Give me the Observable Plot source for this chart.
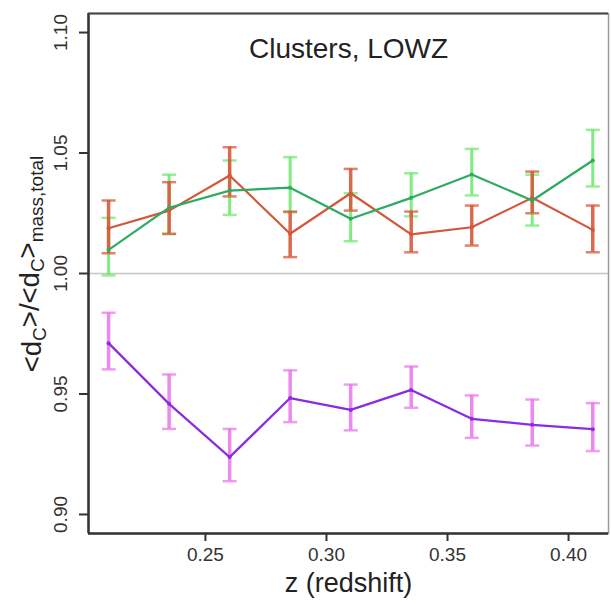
<!DOCTYPE html>
<html>
<head>
<meta charset="utf-8">
<script src="https://cdn.jsdelivr.net/npm/d3@7"></script>
<script src="https://cdn.jsdelivr.net/npm/@observablehq/plot@0.6"></script>
<style>
  html, body { margin: 0; padding: 0; background: #fff; }
  #chart svg { display: block; }
</style>
</head>
<body>
<div id="chart"></div>
<script>
// ---- data ----
const z = [0.21, 0.235, 0.26, 0.285, 0.31, 0.335, 0.36, 0.385, 0.41];

const greenVal = [1.0098, 1.0273, 1.0344, 1.0356, 1.0227, 1.0314, 1.0411, 1.0303, 1.0469];
const greenLo  = [0.9992, 1.0163, 1.0243, 1.0254, 1.0134, 1.0237, 1.0324, 1.0199, 1.0361];
const greenHi  = [1.0231, 1.0410, 1.0469, 1.0483, 1.0333, 1.0416, 1.0517, 1.0410, 1.0596];

const redVal = [1.0188, 1.0261, 1.0407, 1.0165, 1.0333, 1.0162, 1.0192, 1.0314, 1.0181];
const redLo  = [1.0084, 1.0165, 1.0320, 1.0068, 1.0261, 1.0088, 1.0116, 1.0250, 1.0088];
const redHi  = [1.0303, 1.0379, 1.0524, 1.0257, 1.0434, 1.0257, 1.0282, 1.0423, 1.0282];

const purpleVal = [0.9711, 0.9459, 0.9238, 0.9483, 0.9434, 0.9517, 0.9397, 0.9372, 0.9354];
const purpleLo  = [0.9602, 0.9355, 0.9138, 0.9383, 0.9349, 0.9443, 0.9318, 0.9286, 0.9263];
const purpleHi  = [0.9837, 0.9581, 0.9355, 0.9598, 0.9539, 0.9614, 0.9494, 0.9477, 0.9462];

const xTicks = [0.25, 0.30, 0.35, 0.40];
const yTicks = [0.90, 0.95, 1.00, 1.05, 1.10];
const xDomain = [0.2017, 0.4165];
const yDomain = [0.8921, 1.1079];
const refValue = 1.00;

const titleText = "Clusters, LOWZ";
const xLabel = "z (redshift)";

// ---- build tables ----
function series(name, val, lo, hi) {
  return z.map((zz, i) => ({series: name, z: zz, v: val[i], lo: lo[i], hi: hi[i]}));
}
const green = series("green", greenVal, greenLo, greenHi);
const red = series("red", redVal, redLo, redHi);
const purple = series("purple", purpleVal, purpleLo, purpleHi);

const colors = {
  green:  {line: "#2eaa62", bar: "#72ea72"},
  red:    {line: "#d2573b", bar: "#d65a3a"},
  purple: {line: "#8a2be2", bar: "#ea7bec"}
};

// horizontal cap symbol for error bars
const capSymbol = {
  draw(ctx, size) {
    const w = Math.sqrt(size / Math.PI);
    ctx.moveTo(-w, 0);
    ctx.lineTo(w, 0);
  }
};

function errorMarks(data, c, w) {
  return [
    Plot.ruleX(data, {x: "z", y1: "lo", y2: "hi", stroke: c.bar, strokeWidth: w, strokeOpacity: 0.9}),
    Plot.dot(data, {x: "z", y: "lo", symbol: capSymbol, r: 7, stroke: c.bar, strokeWidth: 2.5, strokeOpacity: 0.75}),
    Plot.dot(data, {x: "z", y: "hi", symbol: capSymbol, r: 7, stroke: c.bar, strokeWidth: 2.5, strokeOpacity: 0.75})
  ];
}
function lineMarks(data, c) {
  return [
    Plot.line(data, {x: "z", y: "v", stroke: c.line, strokeWidth: 2.2}),
    Plot.dot(data, {x: "z", y: "v", r: 2, fill: c.line})
  ];
}

const chart = Plot.plot({
  width: 611,
  height: 605,
  marginLeft: 88,
  marginRight: 3,
  marginTop: 13,
  marginBottom: 72,
  style: {fontFamily: "'Liberation Sans', Arial, Helvetica, sans-serif", background: "#fff", color: "#222"},
  x: {domain: xDomain},
  y: {domain: yDomain},
  marks: [
    Plot.frame({stroke: "#999", strokeWidth: 1.5}),
    Plot.ruleY([refValue], {stroke: "#c4c4c4", strokeWidth: 1.5}),
    ...errorMarks(green, colors.green, 3),
    ...errorMarks(red, colors.red, 3.5),
    ...errorMarks(purple, colors.purple, 3.5),
    ...lineMarks(red, colors.red),
    ...lineMarks(green, colors.green),
    ...lineMarks(purple, colors.purple),
    // dark axis lines (left, bottom, top)
    Plot.ruleX([xDomain[0]], {stroke: "#333", strokeWidth: 2.5}),
    Plot.ruleY([yDomain[0]], {stroke: "#333", strokeWidth: 2.5}),
    Plot.ruleY([yDomain[1]], {stroke: "#444", strokeWidth: 2}),
    // x axis
    Plot.axisX(xTicks, {tickSize: 8, tickPadding: 6, fontSize: 19, stroke: "#333", strokeWidth: 2,
      tickFormat: d3.format(".2f"), label: null, fill: "#333"}),
    // y axis ticks
    Plot.axisY(yTicks, {tickSize: 9, tickFormat: () => "", stroke: "#333", strokeWidth: 2, label: null}),
    // y tick labels, rotated
    Plot.text(yTicks, {y: d => d, frameAnchor: "left", dx: -28, rotate: -90, text: d3.format(".2f"),
      fontSize: 19, fill: "#333", textAnchor: "middle"}),
    // title
    Plot.text([titleText], {frameAnchor: "top", dy: 25, text: d => d, fontSize: 28, fill: "#222"}),
    // x axis label
    Plot.text([xLabel], {frameAnchor: "bottom", dy: 58, text: d => d, fontSize: 27, fill: "#222"})
  ]
});

document.getElementById("chart").appendChild(chart);

// y axis label with subscripts
const svg = d3.select(chart);
const t = svg.append("text")
  .attr("transform", "translate(41,264) rotate(-90)")
  .attr("text-anchor", "middle")
  .attr("font-family", "'Liberation Sans', Arial, Helvetica, sans-serif")
  .attr("font-size", 27.5)
  .attr("fill", "#222");
t.append("tspan").text("<d");
t.append("tspan").attr("font-size", 19).attr("dy", "0.25em").text("C");
t.append("tspan").attr("dy", "-0.25em").text(">/<d");
t.append("tspan").attr("font-size", 19).attr("dy", "0.25em").text("C");
t.append("tspan").attr("dy", "-0.25em").text(">");
t.append("tspan").attr("font-size", 19).attr("dy", "0.35em").text("mass,total");
</script>
</body>
</html>
